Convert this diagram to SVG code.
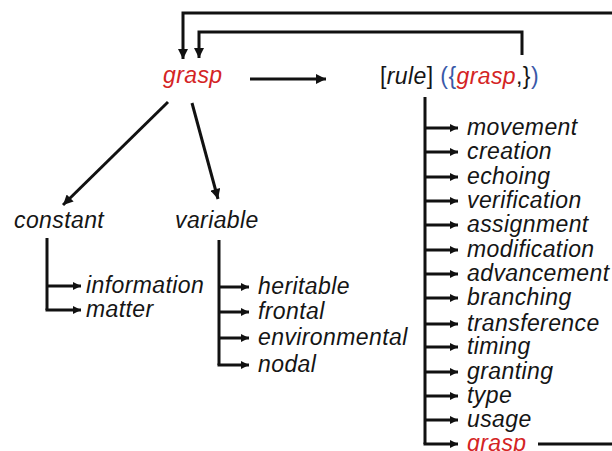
<svg xmlns="http://www.w3.org/2000/svg" width="612" height="451" viewBox="0 0 612 451">
  <style>
    .t { font-family: "Liberation Sans", Arial, sans-serif; font-size: 23px; font-style: italic; letter-spacing: 0.4px; fill: #151515; }
    .red { fill: #d42424; }
    .blue { fill: #3a58a8; font-style: normal; }
    .up { font-style: normal; }
    .ln { fill: none; stroke: #111; stroke-width: 3; stroke-linejoin: miter; }
    .ar { marker-end: url(#ah); }
    .big { marker-end: url(#ahBig); }
  </style>
  <defs>
    <marker id="ah" viewBox="0 0 10 10" refX="10" refY="5" markerWidth="9" markerHeight="8" markerUnits="userSpaceOnUse" orient="auto">
      <path d="M0,0 L10,5 L0,10 z" fill="#111"/>
    </marker>
    <marker id="ahBig" viewBox="0 0 10 10" refX="10" refY="5" markerWidth="12" markerHeight="10" markerUnits="userSpaceOnUse" orient="auto">
      <path d="M0,0 L10,5 L0,10 z" fill="#111"/>
    </marker>
  </defs>
  <rect width="612" height="451" fill="#ffffff"/>

  <!-- connectors -->
  <g id="connectors">
    <!-- feedback loops into the root -->
    <path class="ln big" d="M612,13 L183,13 L183,59"/>
    <path class="ln big" d="M522,55 L522,32 L199,32 L199,58"/>
    <path class="ln" d="M538,444 L612,444"/>
    <!-- root to rule -->
    <path class="ln big" d="M250,79 L326,79"/>
    <!-- root to constant / variable -->
    <path class="ln big" d="M168,102 L63,205"/>
    <path class="ln big" d="M192,103 L218,199"/>
    <!-- constant branches -->
    <path class="ln" d="M47,238 L47,310"/>
    <path class="ln ar" d="M47,286 L81,286"/>
    <path class="ln ar" d="M45.5,310 L81,310"/>
    <!-- variable branches -->
    <path class="ln" d="M219,240 L219,365"/>
    <path class="ln ar" d="M219,287 L249,287"/>
    <path class="ln ar" d="M219,312 L249,312"/>
    <path class="ln ar" d="M219,338 L249,338"/>
    <path class="ln ar" d="M217.5,365 L249,365"/>
    <!-- rule branches -->
    <path class="ln" d="M425,97 L425,444"/>
    <path class="ln ar" d="M425,128 L458,128"/>
    <path class="ln ar" d="M425,152 L458,152"/>
    <path class="ln ar" d="M425,177 L458,177"/>
    <path class="ln ar" d="M425,201 L458,201"/>
    <path class="ln ar" d="M425,225 L458,225"/>
    <path class="ln ar" d="M425,250 L458,250"/>
    <path class="ln ar" d="M425,274 L458,274"/>
    <path class="ln ar" d="M425,298 L458,298"/>
    <path class="ln ar" d="M425,324 L458,324"/>
    <path class="ln ar" d="M425,347 L458,347"/>
    <path class="ln ar" d="M425,372 L458,372"/>
    <path class="ln ar" d="M425,396 L458,396"/>
    <path class="ln ar" d="M425,420 L458,420"/>
    <path class="ln ar" d="M423.5,444 L458,444"/>
  </g>

  <!-- nodes -->
  <g id="grasp-root"><text class="t red" x="163" y="83">grasp</text></g>
  <g id="rule">
    <text class="t" x="380" y="84"><tspan class="up">[</tspan>rule<tspan class="up">] </tspan><tspan class="blue">({</tspan><tspan class="red">grasp</tspan><tspan class="up">,}</tspan><tspan class="blue">)</tspan></text>
  </g>
  <g id="constant"><text class="t" x="14" y="228">constant</text></g>
  <g id="variable"><text class="t" x="175" y="228">variable</text></g>

  <g id="information"><text class="t" x="86" y="293">information</text></g>
  <g id="matter"><text class="t" x="86" y="317">matter</text></g>

  <g id="heritable"><text class="t" x="258" y="294">heritable</text></g>
  <g id="frontal"><text class="t" x="258" y="319">frontal</text></g>
  <g id="environmental"><text class="t" x="258" y="345">environmental</text></g>
  <g id="nodal"><text class="t" x="258" y="372">nodal</text></g>

  <g id="movement"><text class="t" x="467" y="135">movement</text></g>
  <g id="creation"><text class="t" x="467" y="159">creation</text></g>
  <g id="echoing"><text class="t" x="467" y="184">echoing</text></g>
  <g id="verification"><text class="t" x="467" y="208">verification</text></g>
  <g id="assignment"><text class="t" x="467" y="232">assignment</text></g>
  <g id="modification"><text class="t" x="467" y="257">modification</text></g>
  <g id="advancement"><text class="t" x="467" y="281">advancement</text></g>
  <g id="branching"><text class="t" x="467" y="305">branching</text></g>
  <g id="transference"><text class="t" x="467" y="331">transference</text></g>
  <g id="timing"><text class="t" x="467" y="354">timing</text></g>
  <g id="granting"><text class="t" x="467" y="379">granting</text></g>
  <g id="type"><text class="t" x="467" y="403">type</text></g>
  <g id="usage"><text class="t" x="467" y="427">usage</text></g>
  <g id="grasp-leaf"><text class="t red" x="467" y="451">grasp</text></g>
</svg>
